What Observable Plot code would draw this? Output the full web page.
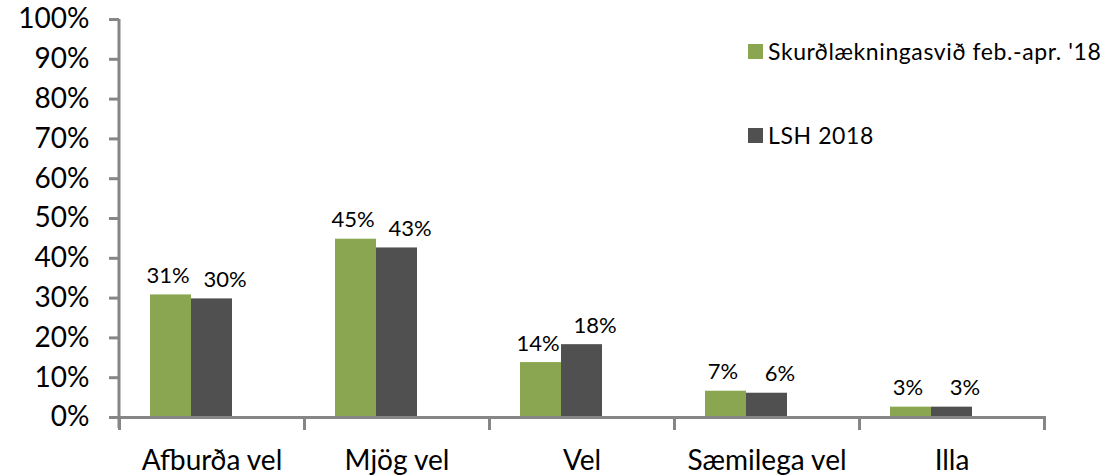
<!DOCTYPE html>
<html>
<head>
<meta charset="utf-8">
<script src="https://cdn.jsdelivr.net/npm/d3@7"></script>
<script src="https://cdn.jsdelivr.net/npm/@observablehq/plot@0.6"></script>
<style>
  html, body { margin: 0; padding: 0; background: #fff; }
  #wrap { position: relative; width: 1117px; height: 476px; font-family: Lato, "Open Sans", sans-serif; color: #000; }
  .lg-item { position: absolute; display: flex; align-items: center; font-size: 23px; letter-spacing: 0.6px; line-height: 1; white-space: nowrap; }
  .lg-sw { width: 15px; height: 15px; margin-right: 5px; flex: none; }
</style>
</head>
<body>
<div id="wrap"></div>
<script>
// ---- data ----
const categories = ["Afburða vel", "Mjög vel", "Vel", "Sæmilega vel", "Illa"];
const seriesNames = ["Skurðlækningasvið feb.-apr. '18", "LSH 2018"];
const surgeryValues = [30.8, 44.8, 13.8, 6.6, 2.6];
const lshValues = [29.8, 42.6, 18.3, 6.1, 2.6];
const yTicks = [0, 10, 20, 30, 40, 50, 60, 70, 80, 90, 100];
const seriesColors = ["#8aa650", "#505050"];
const emptySlot = "·"; // unused third slot in each group, as in the source chart

const rows = categories.flatMap((c, i) => [
  {category: c, series: seriesNames[0], value: surgeryValues[i]},
  {category: c, series: seriesNames[1], value: lshValues[i]}
]);

const W = 1117, H = 476, mT = 19, mB = 59, mL = 117, mR = 71;
const axisGrey = "#868686";

const chart = Plot.plot({
  width: W, height: H,
  marginLeft: mL, marginRight: mR, marginTop: mT, marginBottom: mB,
  style: {fontFamily: "Lato, 'Open Sans', sans-serif", background: "#fff", color: "#000"},
  fx: {domain: categories, paddingInner: 0, paddingOuter: 0, label: null},
  x: {domain: [...seriesNames, emptySlot], paddingInner: 0, paddingOuter: 0.75, axis: null},
  y: {domain: [0, 100], label: null},
  color: {domain: seriesNames, range: seriesColors},
  marks: [
    Plot.barY(rows, {fx: "category", x: "series", y: "value", fill: "series", inset: 0}),
    Plot.ruleY([0], {stroke: axisGrey, strokeWidth: 3}),
    Plot.frame({anchor: "left", stroke: axisGrey, strokeWidth: 3, insetTop: H - mT - mB, insetBottom: -11}),
    Plot.frame({anchor: "right", facetAnchor: "right", stroke: axisGrey, strokeWidth: 3, insetTop: H - mT - mB, insetBottom: -11}),
    Plot.axisY({ticks: yTicks, tickFormat: d => d + "%", tickSize: 10, tickPadding: 20, fontSize: 28, stroke: axisGrey, strokeWidth: 3, fill: "#000", label: null}),
    Plot.axisFx({anchor: "bottom", tickSize: 0, tickPadding: 33, fontSize: 28, fill: "#000", label: null}),
    Plot.text(rows.filter(d => d.series === seriesNames[0]), {fx: "category", x: "series", y: "value", text: d => Math.round(d.value) + "%", dy: -19, dx: -3, fontSize: 22, fill: "#000"}),
    Plot.text(rows.filter(d => d.series === seriesNames[1]), {fx: "category", x: "series", y: "value", text: d => Math.round(d.value) + "%", dy: -19, dx: 13, fontSize: 22, fill: "#000"})
  ]
});

// vertical value-axis line, positioned through the chart's own scales
const fxScale = chart.scale("fx");
const yScale = chart.scale("y");
d3.select(chart).append("line")
  .attr("x1", fxScale.apply(categories[0]))
  .attr("x2", fxScale.apply(categories[0]))
  .attr("y1", yScale.apply(100))
  .attr("y2", yScale.apply(0) + 11)
  .attr("stroke", axisGrey)
  .attr("stroke-width", 3);

const wrap = document.getElementById("wrap");
wrap.appendChild(chart);

// legend (top right, inside plot area)
const legendTops = [44, 128];
seriesNames.forEach((name, i) => {
  const item = document.createElement("div");
  item.className = "lg-item";
  item.style.left = "748px";
  item.style.top = (legendTops[i] - 1) + "px";
  item.style.height = "17px";
  const sw = document.createElement("span");
  sw.className = "lg-sw";
  sw.style.background = seriesColors[i];
  const tx = document.createElement("span");
  tx.textContent = name;
  item.appendChild(sw);
  item.appendChild(tx);
  wrap.appendChild(item);
});
</script>
</body>
</html>
